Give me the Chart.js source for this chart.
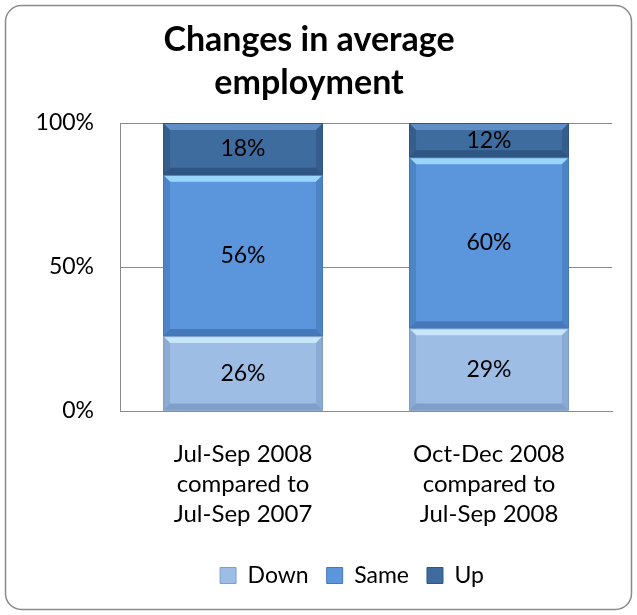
<!DOCTYPE html>
<html>
<head>
<meta charset="utf-8">
<script src="https://cdn.jsdelivr.net/npm/chart.js@4"></script>
<style>
  html, body { margin: 0; padding: 0; background: #fff; }
  #wrap { width: 637px; height: 615px; position: relative; }
</style>
</head>
<body>
<div id="wrap"><canvas id="chart" width="637" height="615"></canvas></div>
<script>
const titleLines = ['Changes in average', 'employment'];
const categories = [
  ['Jul-Sep 2008', 'compared to', 'Jul-Sep 2007'],
  ['Oct-Dec 2008', 'compared to', 'Jul-Sep 2008']
];
const seriesNames = ['Down', 'Same', 'Up'];
const down = [26, 29];
const same = [56, 60];
const up = [18, 12];
const yTicks = [0, 50, 100];

const FONT = 'Lato, "Open Sans", sans-serif';
const fills = ['#9dbde5', '#5b96dd', '#3f6c9f'];
const lights = ['#c8e6fb', '#9ad6fb', '#5f8fc6'];
const darks = ['#7f9fc8', '#4578b8', '#2f5582'];

// 100% stacked: each column is scaled so its parts add up to 100
const raw = [down, same, up];
const totals = categories.map((c, i) => raw.reduce((s, arr) => s + arr[i], 0));
const shares = raw.map(arr => arr.map((v, i) => v / totals[i] * 100));

const frame = {
  id: 'frame',
  beforeDraw(chart) {
    const ctx = chart.ctx;
    ctx.save();
    ctx.fillStyle = '#fff';
    ctx.fillRect(0, 0, chart.width, chart.height);
    ctx.beginPath();
    ctx.roundRect(5.5, 5.5, chart.width - 11, chart.height - 11, 16);
    ctx.strokeStyle = '#8a8a8a';
    ctx.lineWidth = 1.5;
    ctx.stroke();
    ctx.fillStyle = '#000';
    ctx.font = 'bold 34px ' + FONT;
    ctx.textAlign = 'center';
    ctx.textBaseline = 'middle';
    titleLines.forEach((t, i) => ctx.fillText(t, 309, 40 + i * 43));
    ctx.restore();
  },
  afterLayout(chart) {
    // legend sits a little left of the plot's centre
    const lg = chart.legend;
    lg.left -= 14;
    lg.right -= 14;
  }
};

const bevel = {
  id: 'bevel',
  afterDatasetsDraw(chart) {
    const ctx = chart.ctx;
    ctx.save();
    chart.data.datasets.forEach((ds, di) => {
      const meta = chart.getDatasetMeta(di);
      meta.data.forEach((bar, i) => {
        const l = bar.x - bar.width / 2, r = bar.x + bar.width / 2;
        const t = Math.min(bar.y, bar.base), b = Math.max(bar.y, bar.base);
        const e = Math.min(7, (b - t) / 3);
        // top highlight
        ctx.fillStyle = lights[di];
        ctx.beginPath();
        ctx.moveTo(l, t); ctx.lineTo(r, t); ctx.lineTo(r - e, t + e); ctx.lineTo(l + e, t + e);
        ctx.closePath(); ctx.fill();
        // sides
        ctx.fillStyle = darks[di];
        ctx.globalAlpha = 0.6;
        ctx.beginPath();
        ctx.moveTo(l, t); ctx.lineTo(l + e, t + e); ctx.lineTo(l + e, b - e); ctx.lineTo(l, b);
        ctx.closePath(); ctx.fill();
        ctx.beginPath();
        ctx.moveTo(r, t); ctx.lineTo(r - e, t + e); ctx.lineTo(r - e, b - e); ctx.lineTo(r, b);
        ctx.closePath(); ctx.fill();
        ctx.globalAlpha = 1;
        // bottom shade
        ctx.beginPath();
        ctx.moveTo(l, b); ctx.lineTo(r, b); ctx.lineTo(r - e, b - e); ctx.lineTo(l + e, b - e);
        ctx.closePath(); ctx.fill();
        ctx.strokeStyle = darks[di];
        ctx.lineWidth = 1;
        ctx.strokeRect(l + 0.5, t + 0.5, r - l - 1, b - t - 1);
        // value label
        ctx.fillStyle = '#000';
        ctx.font = '23px ' + FONT;
        ctx.textAlign = 'center';
        ctx.textBaseline = 'middle';
        ctx.fillText(raw[di][i] + '%', bar.x, (t + b) / 2);
      });
    });
    ctx.restore();
  }
};

new Chart(document.getElementById('chart'), {
  type: 'bar',
  data: {
    labels: categories,
    datasets: seriesNames.map((name, i) => ({
      label: name,
      data: shares[i],
      backgroundColor: fills[i],
      borderWidth: 0,
      barPercentage: 0.65,
      categoryPercentage: 1
    }))
  },
  options: {
    responsive: false,
    animation: false,
    layout: { padding: { top: 123, right: 25, bottom: 18, left: 0 } },
    scales: {
      x: {
        stacked: true,
        grid: { display: false, drawTicks: false },
        border: { display: true, color: '#8a8a8a', width: 1 },
        ticks: { color: '#000', font: { family: FONT, size: 24, lineHeight: 1.25 }, padding: 28, maxRotation: 0 },
        afterFit(scale) { scale.height = 135; }
      },
      y: {
        stacked: true,
        min: 0,
        max: 100,
        afterBuildTicks(scale) { scale.ticks = yTicks.map(v => ({ value: v })); },
        grid: { color: '#8a8a8a', drawTicks: false },
        border: { display: true, color: '#8a8a8a', width: 1 },
        ticks: { color: '#000', font: { family: FONT, size: 23 }, padding: 26, callback: v => v + '%' },
        afterFit(scale) { scale.width = 120; }
      }
    },
    plugins: {
      title: { display: false },
      tooltip: { enabled: false },
      legend: {
        position: 'bottom',
        fullSize: false,
        labels: {
          color: '#000',
          font: { family: FONT, size: 23 },
          boxWidth: 16,
          boxHeight: 16,
          padding: 18,
          generateLabels(chart) {
            return chart.data.datasets.map((ds, i) => ({
              text: ds.label,
              fillStyle: fills[i],
              strokeStyle: darks[i],
              lineWidth: 1,
              datasetIndex: i
            }));
          }
        }
      }
    }
  },
  plugins: [frame, bevel]
});
</script>
</body>
</html>
